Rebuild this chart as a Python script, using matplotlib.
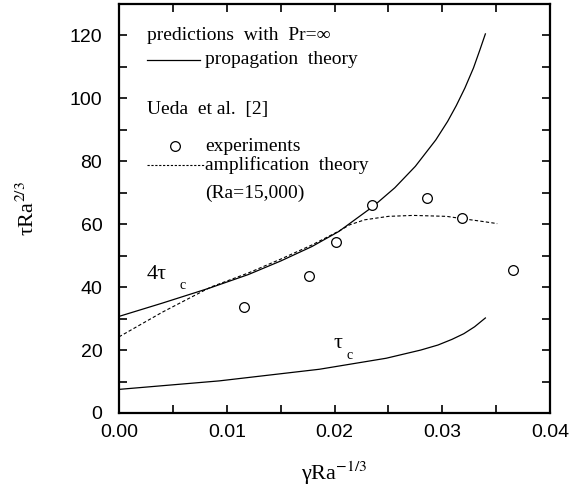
import numpy as np
import matplotlib.pyplot as plt
from matplotlib.lines import Line2D

plt.rcParams['mathtext.fontset'] = 'stix'

# propagation theory, 4*tau_c
prop_x = [0.0, 0.004, 0.0084, 0.0120, 0.0150, 0.0179, 0.0204, 0.0236, 0.0256, 0.0275,
          0.0294, 0.0305, 0.0313, 0.0321, 0.0329, 0.0335, 0.0340]
prop_y = [30.7, 34.9, 39.7, 44.0, 48.3, 52.9, 57.7, 65.7, 71.6, 78.4,
          86.8, 92.7, 97.7, 103.3, 109.7, 115.5, 120.5]

# propagation theory, tau_c
tauc_x = [0.0, 0.0093, 0.0186, 0.0248, 0.0280, 0.0296, 0.0309, 0.0320, 0.0330, 0.0340]
tauc_y = [7.5, 10.2, 13.9, 17.4, 20.0, 21.6, 23.4, 25.2, 27.4, 30.2]

# amplification theory (Ra=15,000)
amp_x = [0.0, 0.004, 0.0085, 0.0120, 0.0150, 0.0179, 0.0204, 0.0214, 0.0228, 0.0250,
         0.0273, 0.0304, 0.0320, 0.0335, 0.0351]
amp_y = [24.2, 32.0, 40.0, 44.5, 48.9, 53.4, 57.8, 59.8, 61.4, 62.5,
         62.8, 62.5, 61.7, 61.0, 60.2]

# Ueda et al. experiments
exp_x = [0.0116, 0.0176, 0.0201, 0.0235, 0.0286, 0.0318, 0.0366]
exp_y = [33.7, 43.6, 54.2, 66.2, 68.3, 62.0, 45.5]

fig = plt.figure(figsize=(5.76, 4.95), dpi=100)
ax = fig.add_axes([0.2066, 0.1657, 0.7483, 0.8262])

ax.plot(prop_x, prop_y, color='black', lw=0.9)
ax.plot(tauc_x, tauc_y, color='black', lw=0.9)
ax.plot(amp_x, amp_y, color='black', lw=0.8, linestyle=(0, (3, 2)))
ax.plot(exp_x, exp_y, 'o', ms=7, mfc='white', mec='black', mew=0.9, linestyle='none')

ax.set_xlim(0, 0.04)
ax.set_ylim(0, 130)
ax.set_xticks([0.0, 0.01, 0.02, 0.03, 0.04])
ax.set_xticks(np.arange(0.005, 0.04, 0.01), minor=True)
ax.set_yticks(np.arange(0, 121, 20))
ax.set_yticks(np.arange(10, 130, 20), minor=True)
ax.set_xticklabels(['0.00', '0.01', '0.02', '0.03', '0.04'])

ax.tick_params(which='both', direction='in', top=True, right=True, length=6, width=1.2,
               labelsize=14, labelfontfamily='Liberation Sans')
ax.tick_params(axis='x', pad=8)
ax.tick_params(axis='y', pad=12)
for s in ax.spines.values():
    s.set_linewidth(1.6)

ax.set_xlabel('γRa$^{-1/3}$', family='Liberation Serif', fontsize=16, labelpad=13)
ax.set_ylabel('τRa$^{2/3}$', family='Liberation Serif', fontsize=16, labelpad=22)

# curve labels
ax.text(0.0026, 44, '4τ', family='Liberation Serif', fontsize=16, ha='left', va='center')
ax.text(0.0056, 40.5, 'c', family='Liberation Serif', fontsize=10, ha='left', va='center')
ax.text(0.0199, 22, 'τ', family='Liberation Serif', fontsize=16, ha='left', va='center')
ax.text(0.0211, 18.3, 'c', family='Liberation Serif', fontsize=10, ha='left', va='center')

# legend block, hand placed
serif = dict(family='Liberation Serif', fontsize=14, va='center', ha='left', transform=ax.transAxes)
ax.text(0.065, 0.923, 'predictions  with  Pr=∞', **serif)
ax.add_line(Line2D([0.065, 0.188], [0.864, 0.864], color='black', lw=0.9, transform=ax.transAxes))
ax.text(0.2, 0.864, 'propagation  theory', **serif)
ax.text(0.065, 0.742, 'Ueda  et al.  [2]', **serif)
ax.add_line(Line2D([0.13], [0.652], marker='o', ms=7, mfc='white', mec='black', mew=0.9,
                   linestyle='none', transform=ax.transAxes))
ax.text(0.2, 0.652, 'experiments', **serif)
ax.add_line(Line2D([0.065, 0.2], [0.607, 0.607], color='black', lw=0.8,
                   linestyle=(0, (2, 1.5)), transform=ax.transAxes))
ax.text(0.2, 0.607, 'amplification  theory', **serif)
ax.text(0.2, 0.538, '(Ra=15,000)', **serif)

fig.savefig('out.png', dpi=100)
